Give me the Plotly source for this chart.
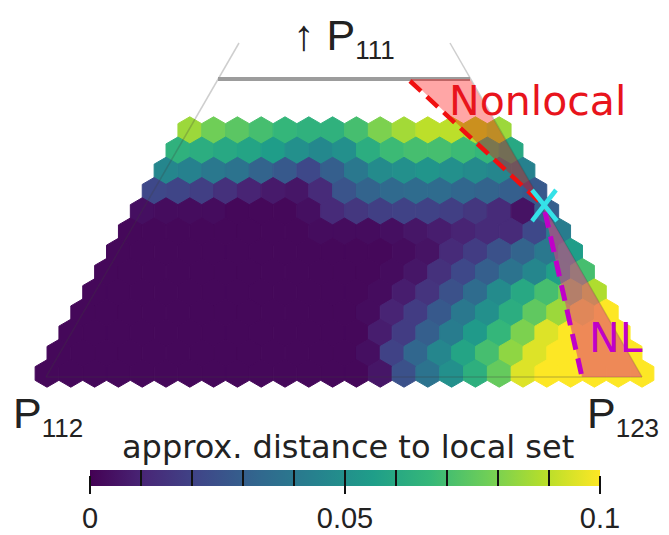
import plotly.graph_objects as go

# ---- data: approx. distance to local set, one list per hex row (top -> bottom) ----
row_00 = [0.085, 0.078, 0.074, 0.070, 0.066, 0.064, 0.064, 0.070, 0.080, 0.086, 0.090, 0.090, 0.088, 0.085]
row_01 = [0.064, 0.062, 0.060, 0.058, 0.055, 0.050, 0.047, 0.050, 0.062, 0.068, 0.070, 0.070, 0.068, 0.066, 0.060]
row_02 = [0.046, 0.044, 0.040, 0.038, 0.032, 0.028, 0.022, 0.030, 0.040, 0.048, 0.050, 0.052, 0.050, 0.048, 0.046, 0.044]
row_03 = [0.022, 0.021, 0.019, 0.014, 0.010, 0.007, 0.006, 0.012, 0.026, 0.032, 0.034, 0.035, 0.035, 0.033, 0.032, 0.030, 0.028]
row_04 = [0.004, 0.003, 0.003, 0.003, 0.002, 0.002, 0.002, 0.004, 0.012, 0.016, 0.019, 0.020, 0.020, 0.019, 0.016, 0.012, 0.005, 0.030]
row_05 = [0.002, 0.002, 0.002, 0.002, 0.002, 0.002, 0.002, 0.002, 0.003, 0.003, 0.003, 0.004, 0.006, 0.008, 0.010, 0.012, 0.012, 0.022, 0.042]
row_06 = [0.002, 0.002, 0.002, 0.002, 0.002, 0.002, 0.002, 0.002, 0.002, 0.002, 0.002, 0.002, 0.003, 0.005, 0.012, 0.018, 0.025, 0.032, 0.040, 0.055]
row_07 = [0.002, 0.002, 0.002, 0.002, 0.002, 0.002, 0.002, 0.002, 0.002, 0.002, 0.002, 0.002, 0.003, 0.006, 0.014, 0.022, 0.030, 0.038, 0.046, 0.056, 0.070]
row_08 = [0.002, 0.002, 0.002, 0.002, 0.002, 0.002, 0.002, 0.002, 0.002, 0.002, 0.002, 0.002, 0.003, 0.008, 0.015, 0.025, 0.035, 0.048, 0.060, 0.070, 0.080, 0.088]
row_09 = [0.002, 0.002, 0.002, 0.002, 0.002, 0.002, 0.002, 0.002, 0.002, 0.002, 0.002, 0.002, 0.003, 0.010, 0.018, 0.028, 0.040, 0.050, 0.062, 0.075, 0.085, 0.095, 0.100]
row_10 = [0.002, 0.002, 0.002, 0.002, 0.002, 0.002, 0.002, 0.002, 0.002, 0.002, 0.002, 0.002, 0.002, 0.008, 0.018, 0.030, 0.042, 0.054, 0.066, 0.080, 0.095, 0.100, 0.100, 0.100]
row_11 = [0.002, 0.002, 0.002, 0.002, 0.002, 0.002, 0.002, 0.002, 0.002, 0.002, 0.002, 0.002, 0.002, 0.004, 0.020, 0.033, 0.046, 0.058, 0.070, 0.083, 0.095, 0.100, 0.100, 0.100, 0.100]
row_12 = [0.002, 0.002, 0.002, 0.002, 0.002, 0.002, 0.002, 0.002, 0.002, 0.002, 0.002, 0.002, 0.002, 0.002, 0.006, 0.025, 0.038, 0.050, 0.063, 0.076, 0.095, 0.100, 0.100, 0.100, 0.100, 0.100]
hex_rows = [row_00, row_01, row_02, row_03, row_04, row_05, row_06,
            row_07, row_08, row_09, row_10, row_11, row_12]

cbar_tick_vals = [0, 0.01, 0.02, 0.03, 0.04, 0.05, 0.06, 0.07, 0.08, 0.09, 0.1]
cbar_label_vals = [0, 0.05, 0.1]
cbar_label_text = ["0", "0.05", "0.1"]
cbar_title = "approx. distance to local set"

# ---- layout constants (pixel-like data coordinates) ----
W, H = 669, 535
X0, Y0, DX, DY = 47.0, 373.5, 23.8, 20.25   # bottom-left hex centre, spacing
N = len(hex_rows)

xs, ys, vs = [], [], []
for r, row in enumerate(hex_rows):
    up = N - 1 - r
    for k, v in enumerate(row):
        xs.append(X0 + up * DX / 2 + k * DX)
        ys.append(Y0 - up * DY)
        vs.append(v)

fig = go.Figure()

fig.add_trace(go.Scatter(
    x=xs, y=ys, mode="markers", hoverinfo="skip",
    marker=dict(symbol="hexagon", size=27.4, color=vs, colorscale="Viridis",
                cmin=0, cmax=0.1,
                line=dict(width=1, color=vs, colorscale="Viridis", cmin=0, cmax=0.1),
                showscale=True,
                colorbar=dict(orientation="h", x=90 / W, xanchor="left",
                              len=510 / W, lenmode="fraction", xpad=0,
                              y=1 - 470 / H, yanchor="top", ypad=0,
                              thickness=16, outlinewidth=0,
                              tickmode="array", tickvals=cbar_tick_vals,
                              ticks="inside", ticklen=16, tickwidth=2,
                              tickcolor="#111", showticklabels=False))))

# second colorbar carrying the long major ticks and labels
fig.add_trace(go.Scatter(
    x=[-100, -100], y=[-100, -100], mode="markers", hoverinfo="skip",
    marker=dict(color=[0, 0.1], cmin=0, cmax=0.1,
                colorscale=[[0, "rgba(0,0,0,0)"], [1, "rgba(0,0,0,0)"]],
                showscale=True,
                colorbar=dict(orientation="h", x=90 / W, xanchor="left",
                              len=510 / W, lenmode="fraction", xpad=0,
                              y=1 - 475 / H, yanchor="top", ypad=0,
                              thickness=1, outlinewidth=0,
                              tickmode="array", tickvals=cbar_label_vals,
                              ticktext=cbar_label_text, ticks="outside",
                              ticklen=18, tickwidth=2, tickcolor="#111",
                              tickfont=dict(family="Liberation Sans", size=29, color="#222")))))

faint = "rgba(60,60,60,0.25)"
fig.add_trace(go.Scatter(x=[239, 46, None, 450, 642, None, 46, 642],
                         y=[43, 377, None, 43, 377, None, 377, 377],
                         mode="lines", line=dict(color=faint, width=1.5), hoverinfo="skip"))
fig.add_trace(go.Scatter(x=[218, 470], y=[79, 79], mode="lines",
                         line=dict(color="#9c9c9c", width=4), hoverinfo="skip"))

# nonlocal regions
fig.add_trace(go.Scatter(x=[410, 470, 543, 410], y=[79, 79, 205, 79], mode="lines",
                         fill="toself", fillcolor="rgba(255,0,0,0.35)",
                         line=dict(width=0), hoverinfo="skip"))
fig.add_trace(go.Scatter(x=[543, 642, 582, 543], y=[205, 377, 377, 205], mode="lines",
                         fill="toself", fillcolor="rgba(225,60,130,0.55)",
                         line=dict(width=0), hoverinfo="skip"))
fig.add_trace(go.Scatter(x=[410, 543], y=[81, 205], mode="lines",
                         line=dict(color="#f01010", width=4.5, dash="15px,8px"), hoverinfo="skip"))
fig.add_trace(go.Scatter(x=[545, 582], y=[212, 377], mode="lines",
                         line=dict(color="#c000c8", width=5, dash="16px,9px"), hoverinfo="skip"))
fig.add_trace(go.Scatter(x=[532, 557, None, 556, 532], y=[190, 221, None, 190, 221], mode="lines",
                         line=dict(color="#35e2e8", width=4.5), hoverinfo="skip"))

ann = dict(xref="x", yref="y", showarrow=False)
sub = '<sub><span style="font-size:26px">{}</span></sub>'
fig.add_annotation(x=537, y=101, text="Nonlocal",
                   font=dict(family="DejaVu Sans", size=41, color="#e8141c"), **ann)
fig.add_annotation(x=616, y=338, text="NL",
                   font=dict(family="DejaVu Sans", size=41, color="#c000c8"), **ann)
fig.add_annotation(x=291, y=38, xanchor="left", text="↑ P" + sub.format("111"),
                   font=dict(family="Liberation Sans", size=43, color="#222"), **ann)
fig.add_annotation(x=11, y=416, xanchor="left", text="P" + sub.format("112"),
                   font=dict(family="Liberation Sans", size=43, color="#222"), **ann)
fig.add_annotation(x=585, y=416, xanchor="left", text="P" + sub.format("123"),
                   font=dict(family="Liberation Sans", size=43, color="#222"), **ann)
fig.add_annotation(x=348, y=447, text=cbar_title,
                   font=dict(family="DejaVu Sans", size=32, color="#222"), **ann)

fig.update_layout(
    width=W, height=H, showlegend=False,
    margin=dict(l=0, r=0, t=0, b=0, pad=0, autoexpand=False),
    paper_bgcolor="white", plot_bgcolor="white",
    xaxis=dict(range=[0, W], visible=False, fixedrange=True),
    yaxis=dict(range=[H, 0], visible=False, fixedrange=True),
)

fig.write_html("out.html")
